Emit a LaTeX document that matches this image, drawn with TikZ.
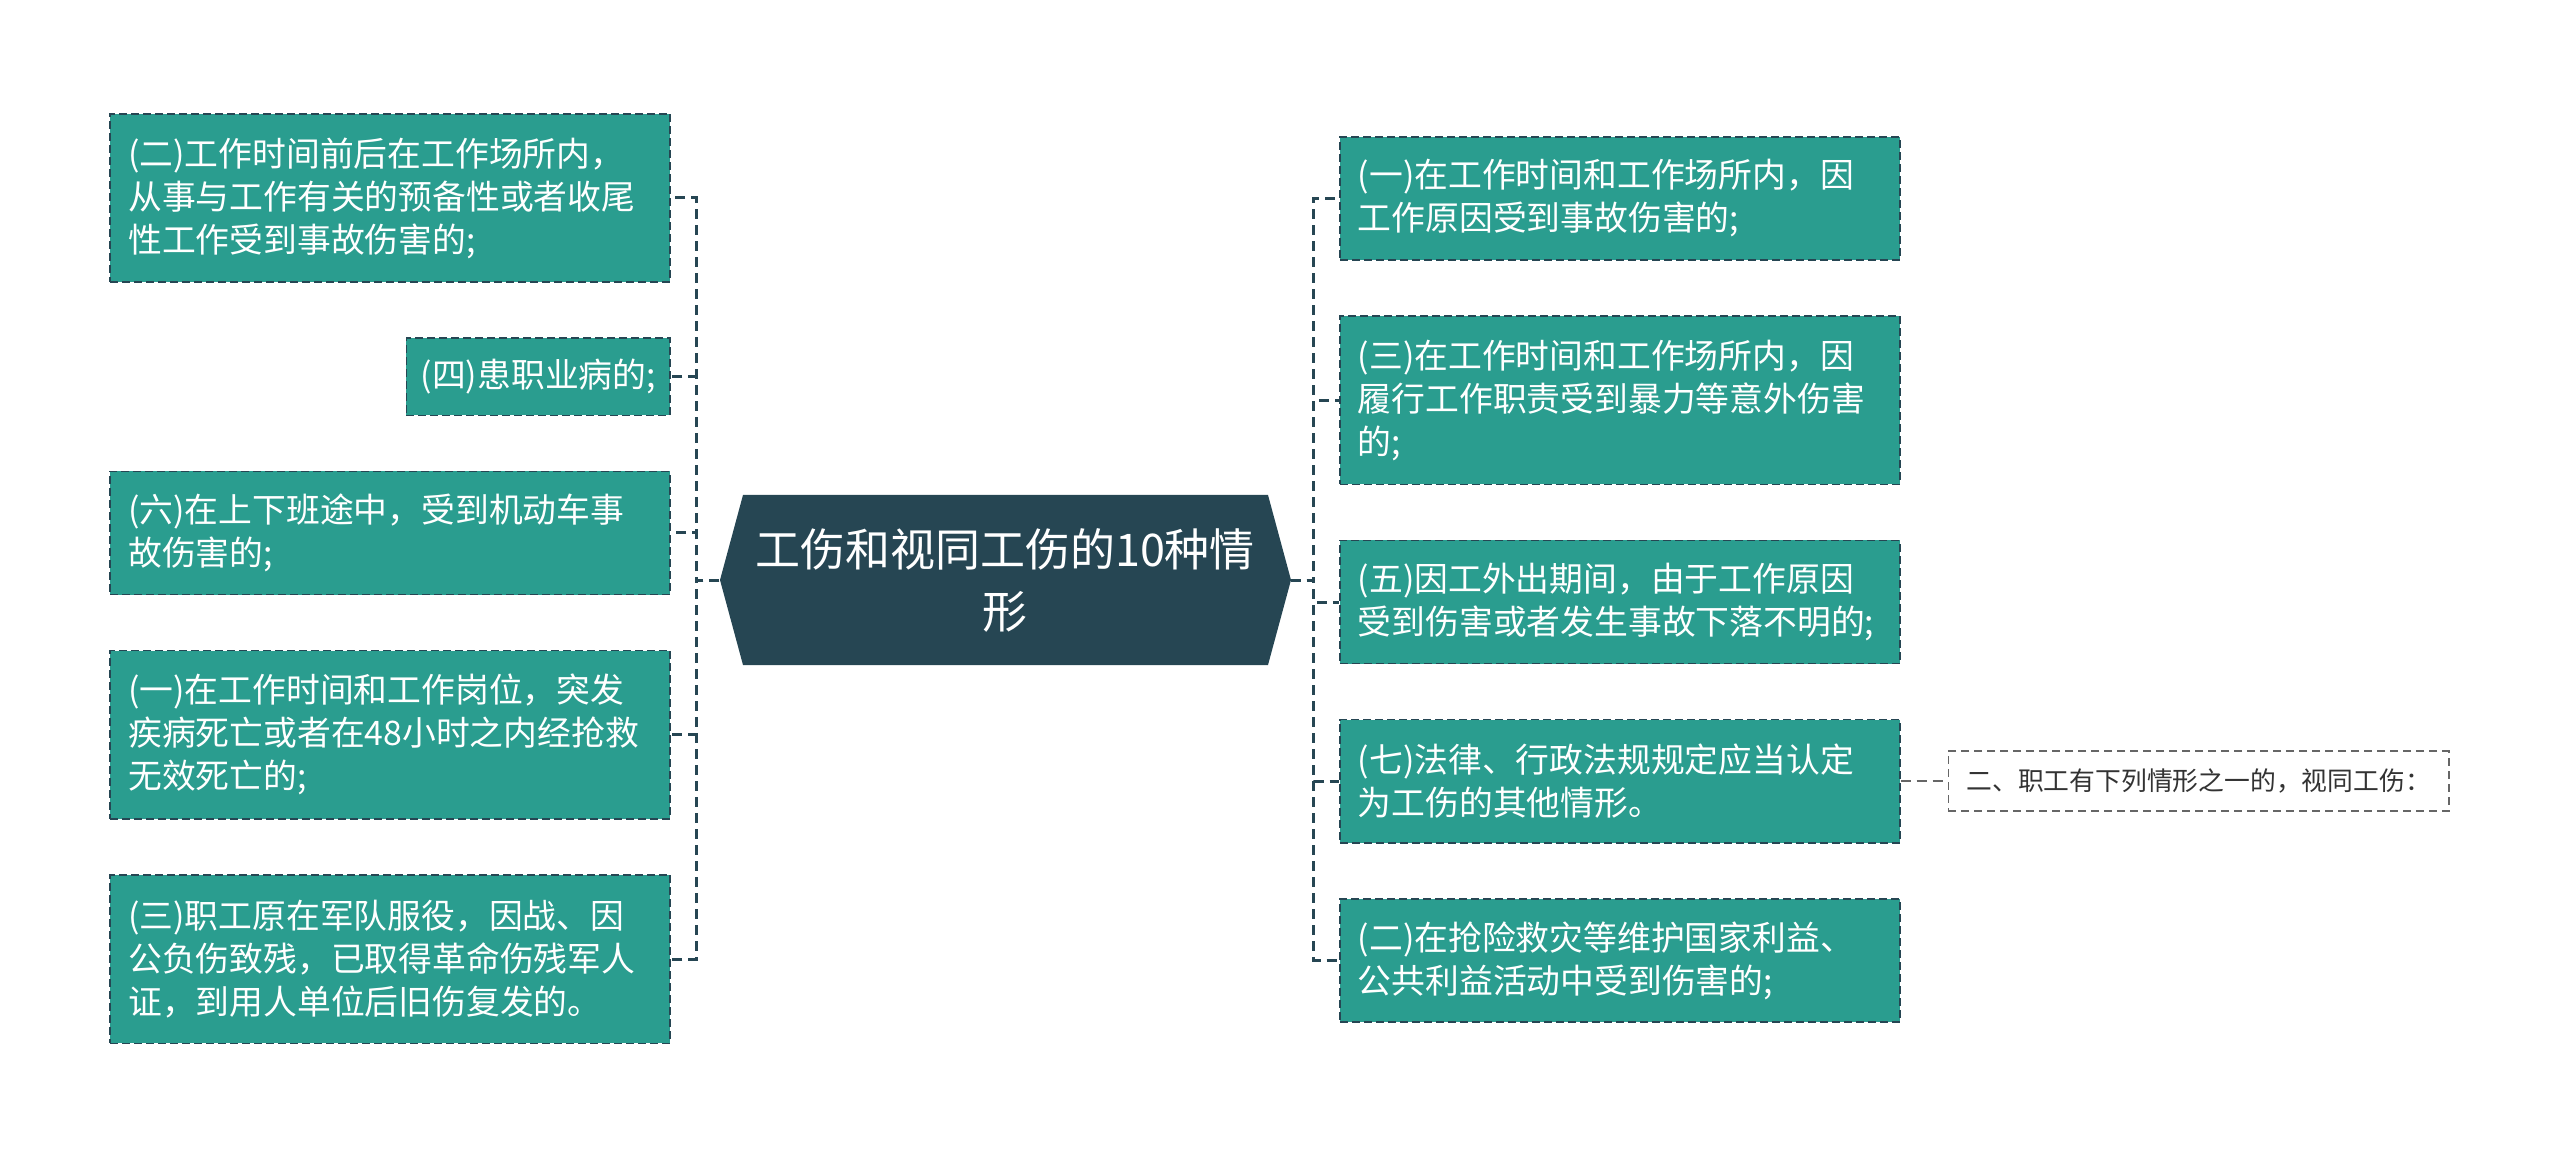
\documentclass[tikz,border=0pt]{standalone}
\usepackage{fontspec}
\setmainfont{Noto Sans CJK SC}
\usepackage{tikz}
\usetikzlibrary{positioning}
\definecolor{hubfill}{HTML}{264653}
\definecolor{boxfill}{HTML}{2A9D8F}
\definecolor{notegray}{HTML}{666666}

\begin{document}
\begin{tikzpicture}[x=0.5pt, y=-0.5pt, node distance=27.2pt,
	every node/.style={inner sep=0pt},
	box/.style={fill=boxfill, draw=hubfill, line width=0.8pt, dash pattern=on 4pt off 2pt,
		text=white, text width=262pt, align=left, inner xsep=9pt, minimum height=61.6pt,
		font=\fontsize{16.9}{21.5}\selectfont},
	note/.style={draw=notegray, line width=0.8pt, dash pattern=on 4pt off 2.5pt, fill=white,
		text=black!80, inner xsep=9pt, minimum height=30pt, minimum width=250pt,
		font=\fontsize{12.9}{15}\selectfont},
	link/.style={draw=hubfill, line width=1.5pt, dash pattern=on 5pt off 3pt},
	toleft/.style={to path={-- ++(-23,0) |- (\tikztotarget)}},
	toright/.style={to path={-- ++(23,0) |- (\tikztotarget)}}]
		\useasboundingbox (0,0) rectangle (2560,1160);

		% central hexagon
		\fill[hubfill] (720,580) -- (743,495) -- (1268,495) -- (1291,580) -- (1268,665) -- (743,665) -- cycle;
		\node (hub) [minimum width=285.5pt, minimum height=85pt, text=white, align=center,
			font=\fontsize{22.5}{31}\selectfont] at (1005,580) {工伤和视同工伤的10种情\\形};

		% left side
		\node[box, minimum height=84.2pt, anchor=north east] (l1) at (671,113)
			{(二)工作时间前后在工作场所内，\\从事与工作有关的预备性或者收尾\\性工作受到事故伤害的;};
		\node[box, text width=, inner xsep=7.2pt, minimum height=38.6pt, align=center]
			(l2) [below=of l1.south east, anchor=north east] {(四)患职业病的;};
		\node[box] (l3) [below=of l2.south east, anchor=north east]
			{(六)在上下班途中，受到机动车事\\故伤害的;};
		\node[box, minimum height=84.2pt] (l4) [below=of l3.south east, anchor=north east]
			{(一)在工作时间和工作岗位，突发\\疾病死亡或者在48小时之内经抢救\\无效死亡的;};
		\node[box, minimum height=84.2pt] (l5) [below=of l4.south east, anchor=north east]
			{(三)职工原在军队服役，因战、因\\公负伤致残，已取得革命伤残军人\\证，到用人单位后旧伤复发的。};

		% right side
		\node[box, anchor=north west] (r1) at (1339,136)
			{(一)在工作时间和工作场所内，因\\工作原因受到事故伤害的;};
		\node[box, minimum height=84.2pt] (r2) [below=of r1.south west, anchor=north west]
			{(三)在工作时间和工作场所内，因\\履行工作职责受到暴力等意外伤害\\的;};
		\node[box] (r3) [below=of r2.south west, anchor=north west]
			{(五)因工外出期间，由于工作原因\\受到伤害或者发生事故下落不明的;};
		\node[box] (r4) [below=of r3.south west, anchor=north west]
			{(七)法律、行政法规规定应当认定\\为工伤的其他情形。};
		\node[box] (r5) [below=of r4.south west, anchor=north west]
			{(二)在抢险救灾等维护国家利益、\\公共利益活动中受到伤害的;};

		\node[note] (n1) [right=23.5pt of r4] {二、职工有下列情形之一的，视同工伤：};

		\path[link]
		(hub.west) edge[toleft] (l1.east)
		(hub.west) edge[toleft] (l2.east)
		(hub.west) edge[toleft] (l3.east)
		(hub.west) edge[toleft] (l4.east)
		(hub.west) edge[toleft] (l5.east)

		(hub.east) edge[toright] (r1.west)
		(hub.east) edge[toright] (r2.west)
		(hub.east) edge[toright] (r3.west)
		(hub.east) edge[toright] (r4.west)
		(hub.east) edge[toright] (r5.west)
		;
		\draw[draw=notegray, line width=0.8pt, dash pattern=on 5pt off 3pt] (r4.east) -- (n1.west);
	\end{tikzpicture}
\end{document}
